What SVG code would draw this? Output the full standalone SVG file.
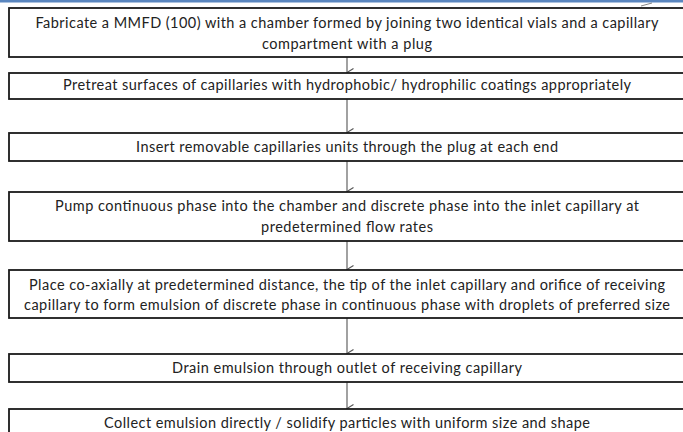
<svg xmlns="http://www.w3.org/2000/svg" width="683" height="432" viewBox="0 0 683 432">
<style>
.box{fill:#fff;stroke:#1a1a1a;stroke-width:1.8}
.t{font-family:Lato,"Liberation Sans",sans-serif;font-size:14.5px;fill:#222;text-anchor:middle}
.c{stroke:#555;stroke-width:1.1;fill:none}
</style>
<defs>
<marker id="ah" markerWidth="10" markerHeight="10" refX="5" refY="8" orient="auto" markerUnits="userSpaceOnUse" viewBox="0 0 10 10">
<path d="M1,1.5 L5,8 L9,1.5" fill="none" stroke="#555" stroke-width="1.1"/>
</marker>
</defs>
<rect width="683" height="432" fill="#fff"/>
<rect x="0" y="0" width="683" height="2.5" fill="#5a86bf"/>
<line x1="641" y1="6" x2="652" y2="3" stroke="#666" stroke-width="0.8"/>
<g id="connectors">
<line class="c" x1="347" y1="57" x2="347" y2="72.5" marker-end="url(#ah)"/>
<line class="c" x1="347" y1="99" x2="347" y2="132.5" marker-end="url(#ah)"/>
<line class="c" x1="347" y1="161" x2="347" y2="191.5" marker-end="url(#ah)"/>
<line class="c" x1="347" y1="241" x2="347" y2="269.5" marker-end="url(#ah)"/>
<line class="c" x1="347" y1="318" x2="347" y2="353.5" marker-end="url(#ah)"/>
<line class="c" x1="347" y1="382" x2="347" y2="408.5" marker-end="url(#ah)"/>
</g>
<g id="n1">
<rect class="box" x="9" y="8" width="676" height="49"/>
<text class="t" x="347" y="28" textLength="623">Fabricate a MMFD (100) with a chamber formed by joining two identical vials and a capillary</text>
<text class="t" x="347" y="49" textLength="170">compartment with a plug</text>
</g>
<g id="n2">
<rect class="box" x="9" y="73" width="676" height="26"/>
<text class="t" x="347" y="90" textLength="568">Pretreat surfaces of capillaries with hydrophobic/ hydrophilic coatings appropriately</text>
</g>
<g id="n3">
<rect class="box" x="9" y="133" width="676" height="28"/>
<text class="t" x="347" y="152" textLength="422">Insert removable capillaries units through the plug at each end</text>
</g>
<g id="n4">
<rect class="box" x="9" y="192" width="676" height="49"/>
<text class="t" x="347" y="211" textLength="584">Pump continuous phase into the chamber and discrete phase into the inlet capillary at</text>
<text class="t" x="347" y="232" textLength="172">predetermined flow rates</text>
</g>
<g id="n5">
<rect class="box" x="9" y="270" width="676" height="48"/>
<text class="t" x="347" y="290" textLength="636">Place co-axially at predetermined distance, the tip of the inlet capillary and orifice of receiving</text>
<text class="t" x="347" y="310" textLength="646">capillary to form emulsion of discrete phase in continuous phase with droplets of preferred size</text>
</g>
<g id="n6">
<rect class="box" x="9" y="354" width="676" height="28"/>
<text class="t" x="347" y="373" textLength="350">Drain emulsion through outlet of receiving capillary</text>
</g>
<g id="n7">
<rect class="box" x="9" y="409" width="676" height="40"/>
<text class="t" x="347" y="428" textLength="486">Collect emulsion directly / solidify particles with uniform size and shape</text>
</g>
</svg>
